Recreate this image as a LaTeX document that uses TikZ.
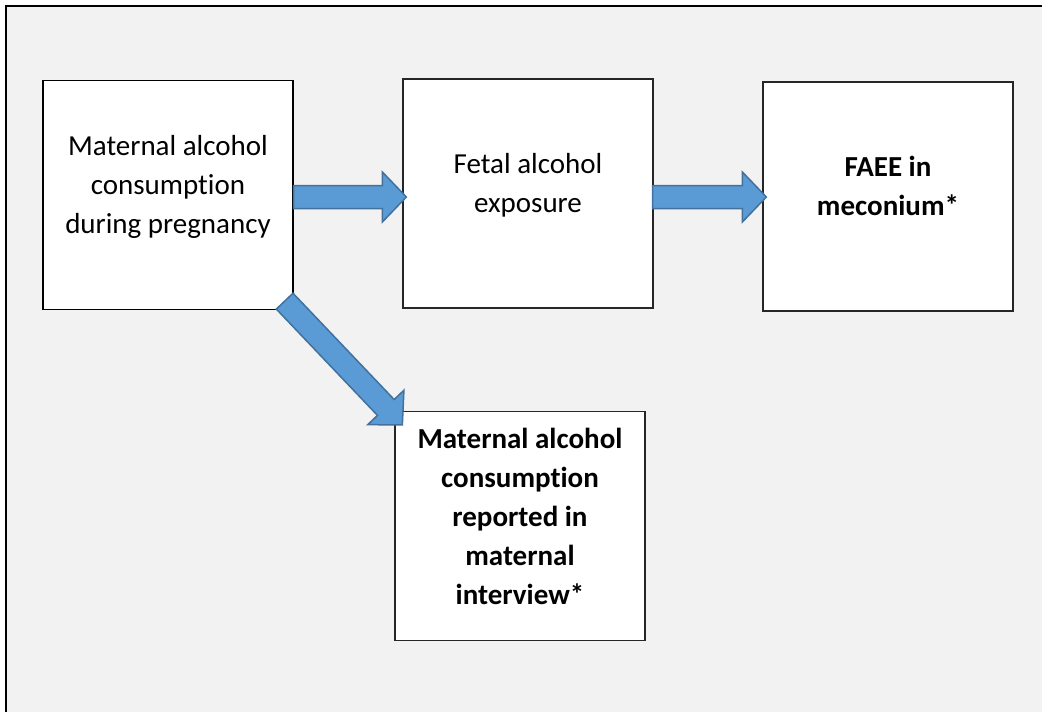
\documentclass[tikz,border=0pt]{standalone}
\usepackage{fontspec}
\setmainfont{Carlito}[Ligatures=NoCommon]
\usetikzlibrary{calc}
\definecolor{pagegray}{HTML}{F2F2F2}
\definecolor{arrowfill}{HTML}{5B9BD5}
\definecolor{arrowline}{HTML}{41719C}
\tikzstyle{box} = [rectangle, draw=black!85, line width=1.3pt, fill=white, inner sep=0pt, minimum width=250pt, minimum height=229pt]
\tikzstyle{lbl} = [align=center, inner sep=0pt, font=\fontsize{29}{39}\selectfont]
\tikzstyle{barrow} = [fill=arrowfill, draw=arrowline, line width=1.5pt, line join=miter]
% block arrow from #1 to #2
\newcommand{\blockarrow}[2]{%
\draw [barrow] let \p1=(#1), \p2=(#2), \n1={atan2(\y2-\y1,\x2-\x1)}, \n2={veclen(\x2-\x1,\y2-\y1)-24} in
 ($(\p1)+(\n1+90:11.5pt)$) -- ($(\p1)+(\n1:{\n2*1pt})+(\n1+90:11.5pt)$)
 -- ($(\p1)+(\n1:{\n2*1pt})+(\n1+90:25pt)$) -- (\p2)
 -- ($(\p1)+(\n1:{\n2*1pt})+(\n1-90:25pt)$) -- ($(\p1)+(\n1:{\n2*1pt})+(\n1-90:11.5pt)$)
 -- ($(\p1)+(\n1-90:11.5pt)$) -- cycle;}

\begin{document}
\begin{tikzpicture}[x=1pt, y=-1pt]
\useasboundingbox (0, 0) rectangle (1042, 712);
\fill [pagegray] (6, 6) rectangle (1042, 712);
\draw [line width=2pt] (6, 712) -- (6, 6) -- (1042, 6);

\node [box, draw=black] (MC0) at (168, 195) {};
\node [box] (FE1) at (528, 193.5) {};
\node [box] (FM2) at (888, 196.5) {};
\node [box] (MR1) at (520, 526) {};

\node [lbl] (MC0t) at (168, 186.5) {Maternal alcohol\\consumption\\during pregnancy};
\node [lbl] (FE1t) at (528, 185) {Fetal alcohol\\exposure};
\node [lbl, font=\fontsize{29}{39}\selectfont\bfseries] (FM2t) at (888, 186) {FAEE in\\meconium*};
\node [lbl, font=\fontsize{29}{39}\selectfont\bfseries] (MR1t) at (520, 516) {Maternal alcohol\\consumption\\reported in\\maternal\\interview*};

\blockarrow{[yshift=-2pt]MC0.east}{[xshift=4pt, yshift=-3.5pt]FE1.west}
\blockarrow{[xshift=-1pt, yshift=-3.5pt]FE1.east}{[xshift=4pt, yshift=-0.5pt]FM2.west}
\blockarrow{[xshift=-9pt, yshift=9pt]MC0.south east}{[xshift=8pt, yshift=-14pt]MR1.north west}
\end{tikzpicture}
\end{document}
